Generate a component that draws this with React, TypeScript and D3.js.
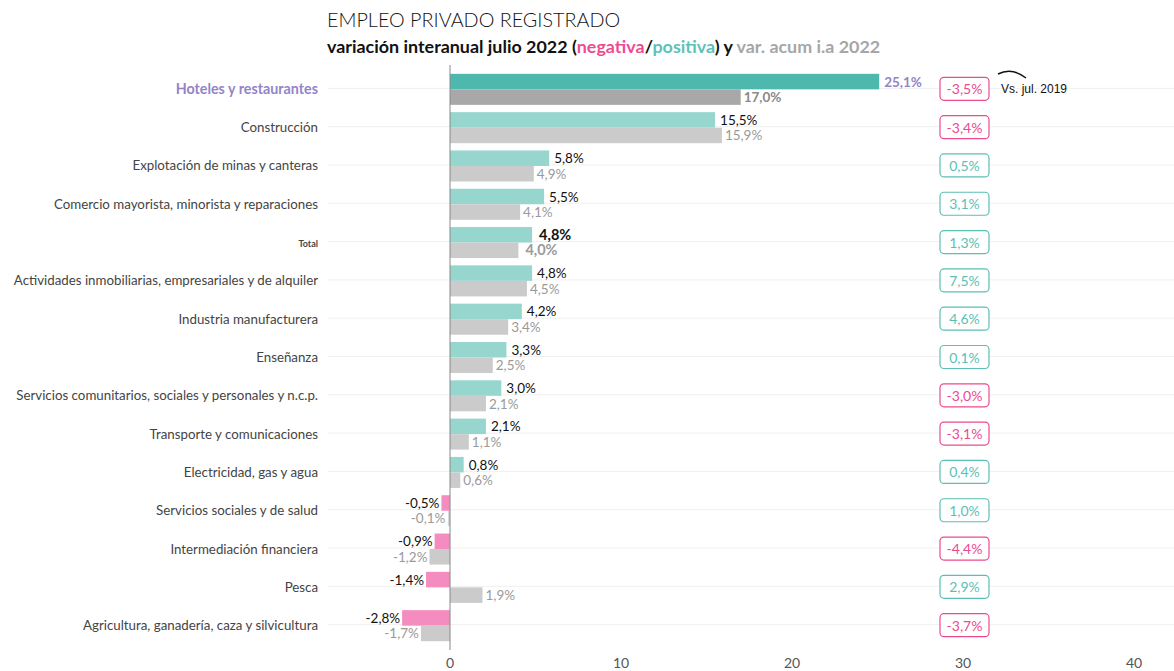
import React from 'react';
import * as d3 from 'd3';

// categorías y valores (% variación)
const categories = [
  'Hoteles y restaurantes',
  'Construcción',
  'Explotación de minas y canteras',
  'Comercio mayorista, minorista y reparaciones',
  'Total',
  'Actividades inmobiliarias, empresariales y de alquiler',
  'Industria manufacturera',
  'Enseñanza',
  'Servicios comunitarios, sociales y personales y n.c.p.',
  'Transporte y comunicaciones',
  'Electricidad, gas y agua',
  'Servicios sociales y de salud',
  'Intermediación financiera',
  'Pesca',
  'Agricultura, ganadería, caza y silvicultura',
];
const interanual = [25.1, 15.5, 5.8, 5.5, 4.8, 4.8, 4.2, 3.3, 3.0, 2.1, 0.8, -0.5, -0.9, -1.4, -2.8];
const acumulada = [17.0, 15.9, 4.9, 4.1, 4.0, 4.5, 3.4, 2.5, 2.1, 1.1, 0.6, -0.1, -1.2, 1.9, -1.7];
const vs2019 = [-3.5, -3.4, 0.5, 3.1, 1.3, 7.5, 4.6, 0.1, -3.0, -3.1, 0.4, 1.0, -4.4, 2.9, -3.7];
const xTicks = [0, 10, 20, 30, 40];

const W = 1174;
const H = 671;
const FONT = 'Lato, "Open Sans", sans-serif';

const TEAL = '#96d6cf';
const TEAL_DARK = '#4fb8ae';
const PINK = '#f48cbf';
const GRAY = '#cbcbcb';
const GRAY_DARK = '#a8a8a8';
const PURPLE = '#9384c8';
const BOX_PINK = '#ec4a8f';
const BOX_TEAL = '#5cbfb6';

const fmt = (v: number) => v.toFixed(1).replace('.', ',') + '%';

export default function App() {
  const x = d3.scaleLinear().domain([0, 40]).range([450, 1134]);
  const y = d3.scaleBand<string>().domain(categories).range([70, 645]).paddingInner(0.19).paddingOuter(0.1);
  const bh = y.bandwidth() / 2;
  const boxX = x(30);

  return (
    <svg width={W} height={H} style={{ position: 'absolute', left: 0, top: 0, fontFamily: FONT }}>
      <rect width={W} height={H} fill="#fff" />
      <text x={327} y={27} fontSize={19.8} fontWeight={300} fill="#111">EMPLEO PRIVADO REGISTRADO</text>
      <text x={327} y={53} fontSize={17.9} fontWeight={700} fill="#111">
        variación interanual julio 2022 (<tspan fill="#ef4b91">negativa</tspan>/<tspan fill="#5cc2b8">positiva</tspan>) y <tspan fill="#a6a6a6">var. acum i.a 2022</tspan>
      </text>

      {/* líneas guía */}
      {categories.map((c) => {
        const cy = (y(c) ?? 0) + bh;
        return <line key={'g' + c} x1={328} x2={W} y1={cy - 1} y2={cy - 1} stroke="#f0f0f0" strokeWidth={1} />;
      })}

      {categories.map((c, i) => {
        const top = y(c) ?? 0;
        const cy = top + bh;
        const isH = i === 0;
        const isT = c === 'Total';
        const v1 = interanual[i];
        const v2 = acumulada[i];
        const c1 = v1 < 0 ? PINK : isH ? TEAL_DARK : TEAL;
        const c2 = isH ? GRAY_DARK : GRAY;
        const bold = isH || isT;
        const fs = isT ? 14.5 : 13.5;
        return (
          <g key={c}>
            <text x={318} y={cy + 4.5} textAnchor="end" fontSize={isT ? 9 : isH ? 14.3 : 13.3} fontWeight={isH || isT ? 700 : 400}
              fill={isH ? PURPLE : '#444'}>{c}</text>
            <rect x={Math.min(x(0), x(v1))} y={top} width={Math.abs(x(v1) - x(0))} height={bh} fill={c1} />
            <rect x={Math.min(x(0), x(v2))} y={top + bh} width={Math.abs(x(v2) - x(0))} height={bh} fill={c2} />
            <text x={v1 < 0 ? x(v1) - 2 : x(v1) + (isT ? 7 : 5)} y={top + bh / 2 + 5} textAnchor={v1 < 0 ? 'end' : 'start'}
              fontSize={fs} fontWeight={bold ? 700 : 400} fill={isH ? PURPLE : '#111'}>{fmt(v1)}</text>
            <text x={v2 < 0 ? x(Math.min(v2, -0.15)) - 2 : x(v2) + (isT ? 7 : 3)} y={top + bh * 1.5 + 5} textAnchor={v2 < 0 ? 'end' : 'start'}
              fontSize={fs} fontWeight={bold ? 700 : 400} fill={isH ? '#8a8a8a' : '#9a9a9a'}>{fmt(v2)}</text>
            <rect x={boxX - 23} y={cy - 12} width={49} height={23} rx={4} fill="#fff"
              stroke={vs2019[i] < 0 ? BOX_PINK : BOX_TEAL} strokeWidth={1.2} />
            <text x={boxX + 1.5} y={cy + 5} textAnchor="middle" fontSize={14}
              fill={vs2019[i] < 0 ? BOX_PINK : BOX_TEAL}>{fmt(vs2019[i])}</text>
          </g>
        );
      })}

      {/* eje cero */}
      <line x1={x(0)} x2={x(0)} y1={65} y2={650} stroke="#888" strokeWidth={1} />

      {xTicks.map((t) => (
        <text key={t} x={x(t)} y={668} textAnchor="middle" fontSize={14} fill="#555">{t}</text>
      ))}

      {/* anotación */}
      <path d="M998,74 Q1012,67 1026,78" fill="none" stroke="#111" strokeWidth={1.5} />
      <text x={1001} y={93} fontSize={12} fontFamily="Arial, 'Liberation Sans', sans-serif" fill="#111">Vs. jul. 2019</text>
    </svg>
  );
}
